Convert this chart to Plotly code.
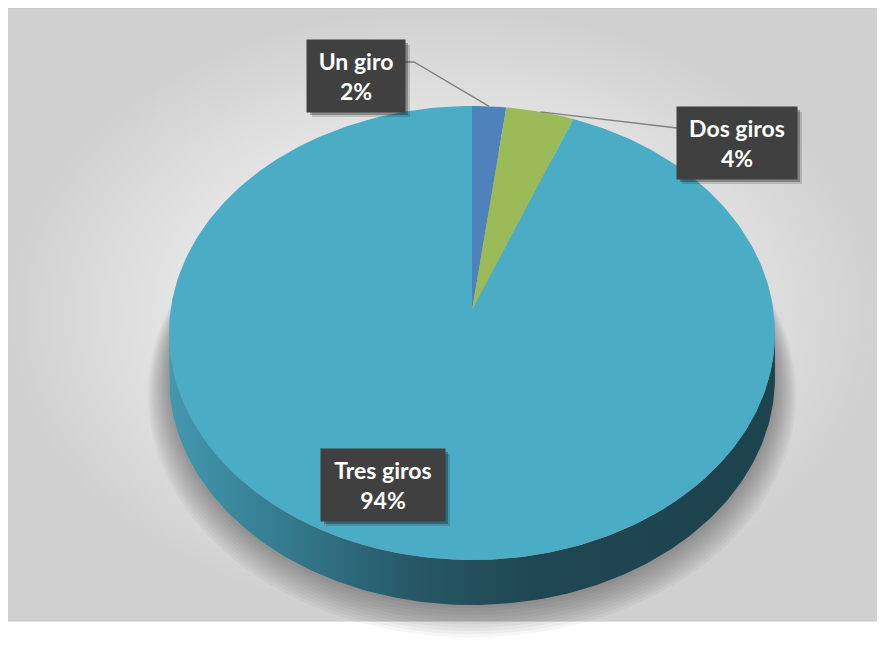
import numpy as np
import plotly.graph_objects as go

# ---- data ----
labels = ["Un giro", "Dos giros", "Tres giros"]
values = [1, 2, 47]
colors = ["#4F81BD", "#9BBB59", "#4BACC6"]

# ---- geometry (window pixel space) ----
CX, CY = 472.0, 310.0
A, B, K = 301.4, 224.7, 0.1013
D = 45.0


def outline(t, dy=0.0, scale=1.0):
    s, c = np.sin(t), np.cos(t)
    den = 1 + K * c
    return CX + scale * A * s / den, CY - scale * B * c / den + dy


fig = go.Figure()

# chart-area background with radial gradient
fig.add_trace(go.Scatter(
    x=[5, 882, 882, 5, 5], y=[8, 8, 621, 621, 8], mode="lines",
    fill="toself", line=dict(color="#C8C8C8", width=1),
    fillgradient=dict(type="radial", colorscale=[[0, "#F8F8F8"], [0.5, "#EAEAEA"], [1, "#D0D0D0"]]),
    hoverinfo="skip", showlegend=False))

# soft shadow under the pie
for i in range(1, 11):
    t = np.linspace(0, 2 * np.pi, 200)
    sx, sy = outline(t, dy=D + 1.5 * i, scale=1 + 0.007 * i)
    fig.add_trace(go.Scatter(x=sx, y=sy, mode="lines", fill="toself",
                             fillcolor="rgba(0,0,0,0.035)", line=dict(width=0),
                             hoverinfo="skip", showlegend=False))

# side wall (front half)
ta = np.arccos(-K)
tb = 2 * np.pi - ta
tt = np.linspace(ta, tb, 200)
x1, y1 = outline(tt)
x2, y2 = outline(tt[::-1], dy=D)
fig.add_trace(go.Scatter(
    x=np.concatenate([x1, x2, x1[:1]]), y=np.concatenate([y1, y2, y1[:1]]),
    mode="lines", fill="toself", line=dict(width=0),
    fillgradient=dict(type="horizontal",
                      colorscale=[[0, "#4398AF"], [0.2, "#34798C"], [0.4, "#265866"],
                                  [0.6, "#1F4752"], [1, "#1D434D"]],
                      start=170, stop=775),
    hoverinfo="skip", showlegend=False))

# top face slices
total = sum(values)
cum = 0.0
mids = []
for lab, v, col in zip(labels, values, colors):
    t0 = 2 * np.pi * cum / total
    t1 = 2 * np.pi * (cum + v) / total
    cum += v
    tt = np.linspace(t0, t1, max(4, int(400 * v / total)))
    ax, ay = outline(tt)
    fig.add_trace(go.Scatter(
        x=np.concatenate([[CX], ax, [CX]]), y=np.concatenate([[CY], ay, [CY]]),
        mode="lines", fill="toself", fillcolor=col, line=dict(width=0),
        name=lab, hoverinfo="name", showlegend=False))
    mids.append(outline((t0 + t1) / 2))

# label boxes (centre x, centre y, width, height) and leader-line start points
boxes = [(356, 76, 98, 72), (737, 143, 120, 72), (383, 485, 124, 72)]
leader_start = [[(405, 62), (414, 62)], [(677, 128)], None]

for i in range(len(labels)):
    if leader_start[i] is not None:
        pts = leader_start[i] + [mids[i]]
        fig.add_trace(go.Scatter(x=[p[0] for p in pts], y=[p[1] for p in pts], mode="lines",
                                 line=dict(color="#808080", width=1.3),
                                 hoverinfo="skip", showlegend=False))

shapes = []
annotations = []
for i, (lab, v) in enumerate(zip(labels, values)):
    bx, by, bw, bh = boxes[i]
    for off, op in [(5, 0.15), (3, 0.28)]:
        shapes.append(dict(type="rect", xref="x", yref="y",
                           x0=bx - bw / 2 + off, x1=bx + bw / 2 + off,
                           y0=by - bh / 2 + off, y1=by + bh / 2 + off,
                           fillcolor=f"rgba(0,0,0,{op})", line=dict(width=0), layer="above"))
    pct = round(100 * v / total)
    annotations.append(dict(
        x=bx, y=by, xref="x", yref="y", showarrow=False,
        text=f"<b>{lab}</b><br><b>{pct}%</b>",
        font=dict(family="Lato", size=23, color="white"),
        bgcolor="#404040", width=bw, height=bh, borderpad=0,
        align="center", valign="middle", xanchor="center", yanchor="middle"))

# page body has an 8px margin: the figure is 869x632 and its axes map 1:1 to window pixels
fig.update_layout(
    width=869, height=632, margin=dict(l=0, r=0, t=0, b=0),
    paper_bgcolor="white", plot_bgcolor="white",
    xaxis=dict(range=[8, 877], visible=False, fixedrange=True),
    yaxis=dict(range=[640, 8], visible=False, fixedrange=True),
    shapes=shapes, annotations=annotations, showlegend=False,
)

fig.write_html("out.html")
